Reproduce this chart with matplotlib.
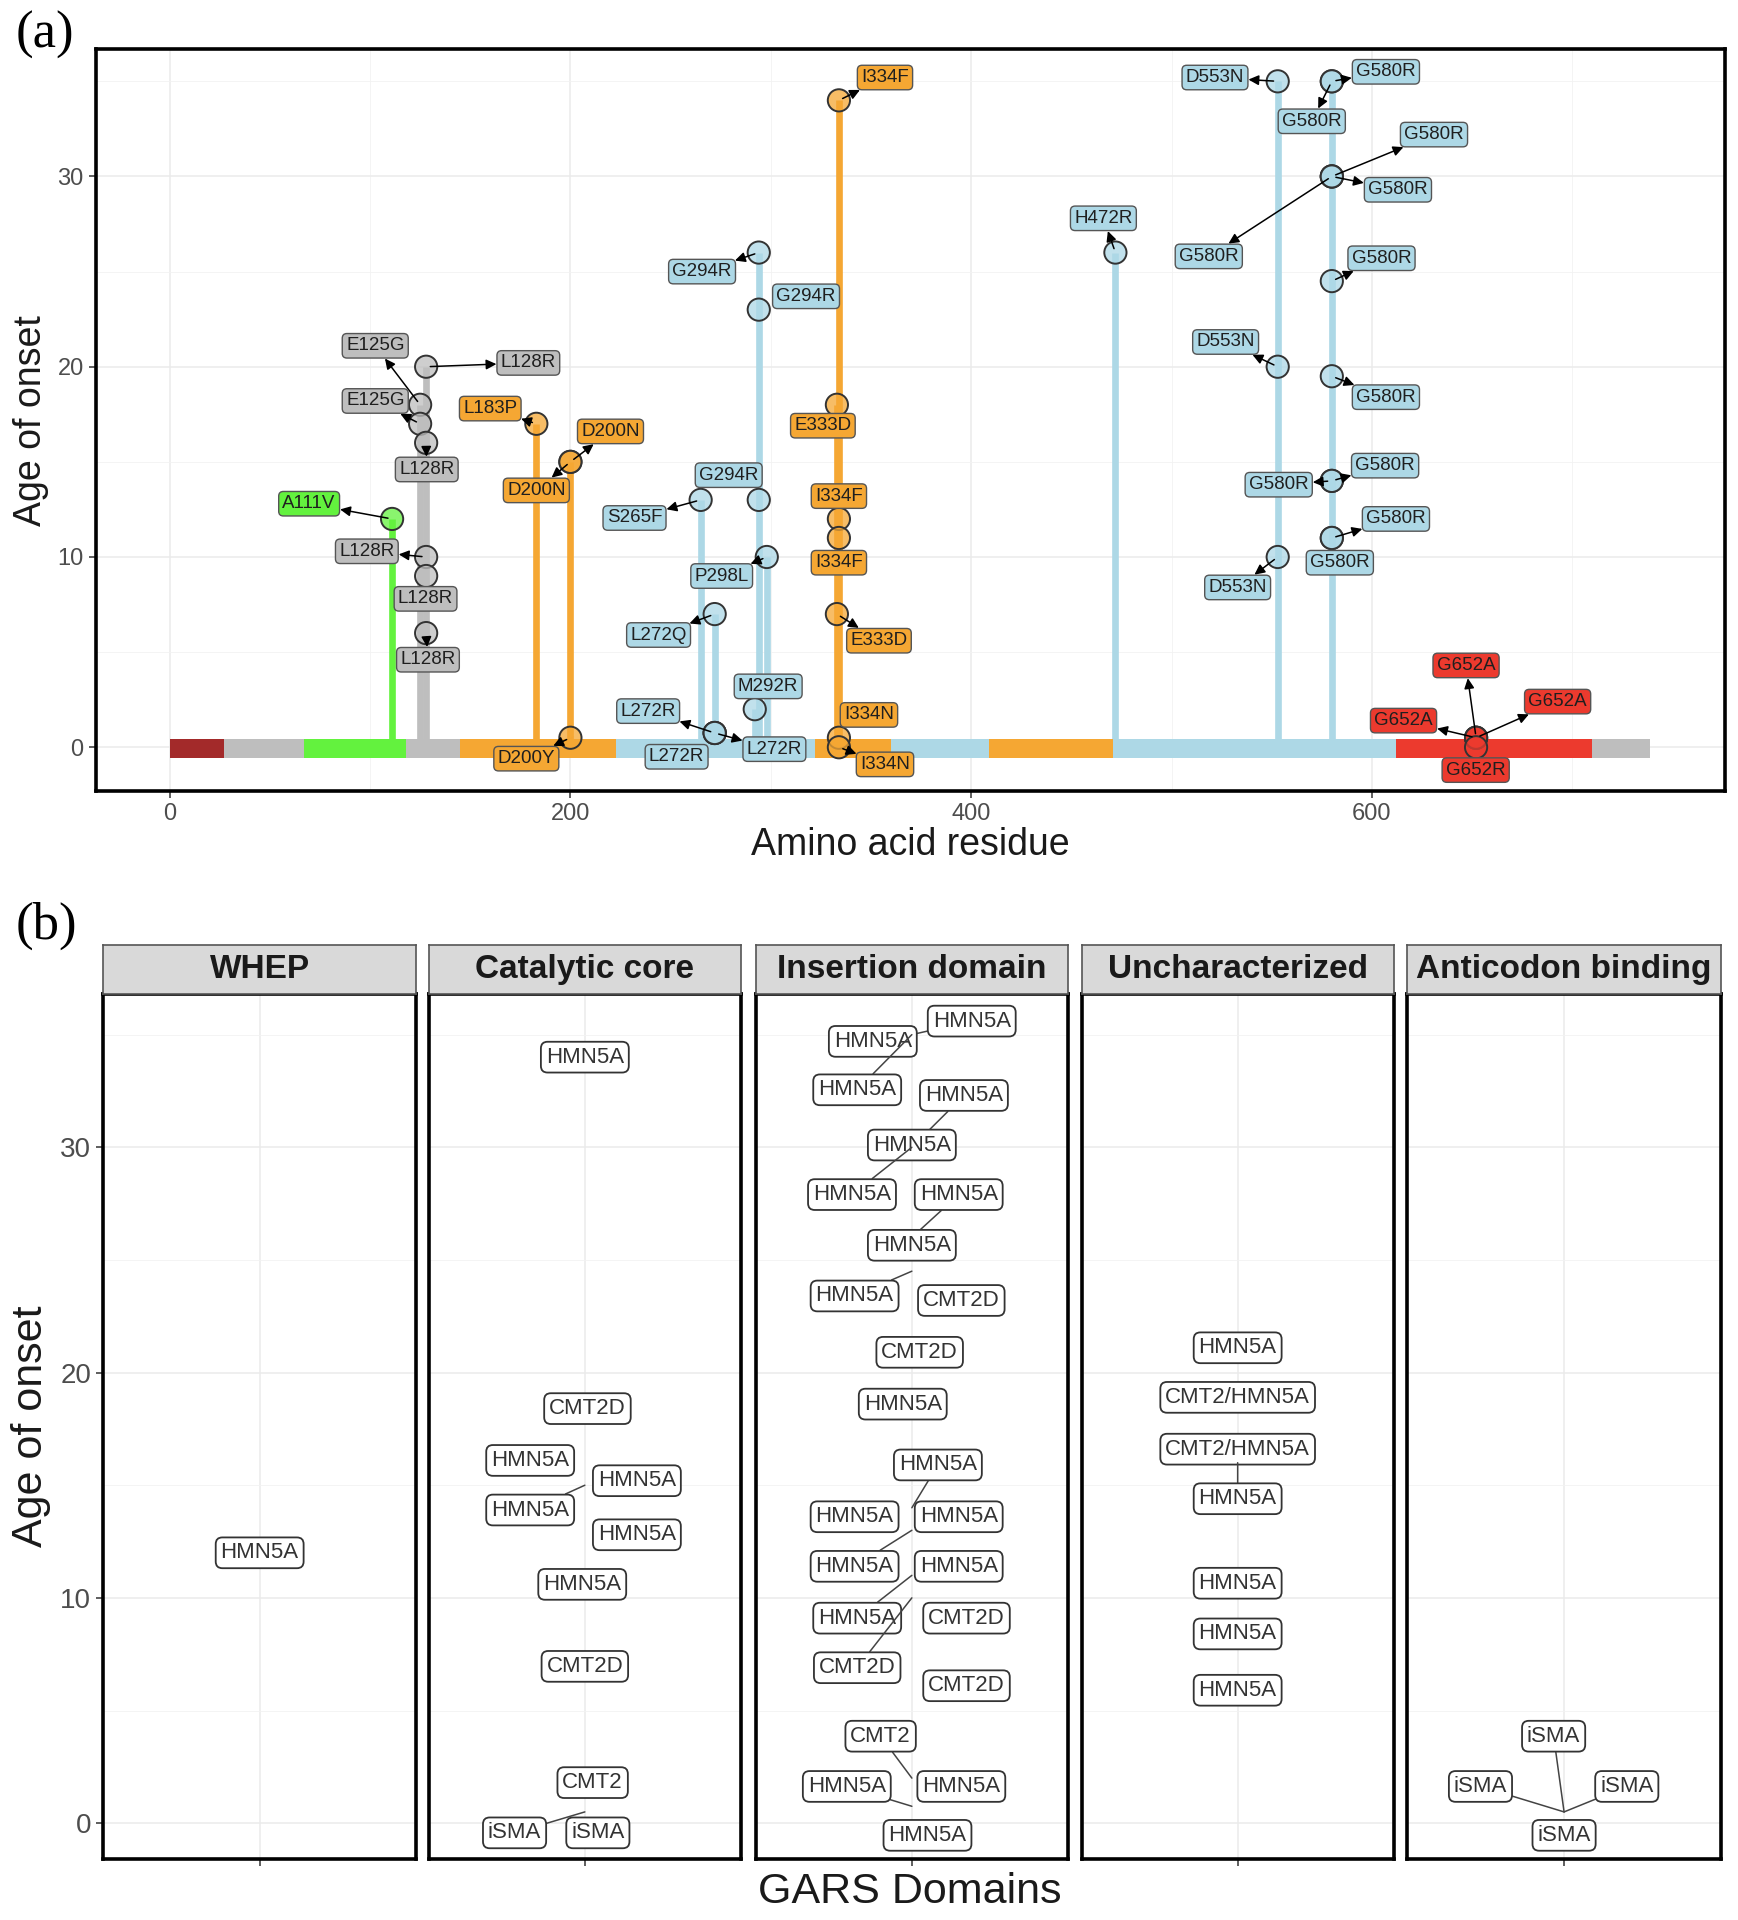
import matplotlib

matplotlib.use("Agg")
import matplotlib.pyplot as plt  # noqa: E402
import numpy as np  # noqa: E402
import pandas as pd  # noqa: E402
from matplotlib.colors import to_rgba  # noqa: E402

plt.rcParams.update({
    "font.family": ["Liberation Sans", "DejaVu Sans"],
    "axes.linewidth": 2.4,
})

# ---- data: reported GARS mutations ----
mutation = ["A111V",
            "L128R", "E125G", "E125G", "L128R", "L128R", "L128R", "L128R",
            "L183P", "D200N", "D200N", "D200Y", "I334F", "E333D", "I334F", "I334F", "E333D", "I334N", "I334N",
            "S265F", "G294R", "G294R", "G294R", "P298L", "L272Q", "M292R", "L272R", "L272R", "L272R",
            "H472R", "D553N", "G580R", "G580R", "G580R", "G580R", "G580R", "G580R", "D553N", "G580R",
            "G580R", "G580R", "G580R", "G580R", "D553N",
            "G652A", "G652A", "G652A", "G652R"]
residue = [111,
           128, 125, 125, 128, 128, 128, 128,
           183, 200, 200, 200, 334, 333, 334, 334, 333, 334, 334,
           265, 294, 294, 294, 298, 272, 292, 272, 272, 272,
           472, 553, 580, 580, 580, 580, 580, 580, 553, 580, 580, 580, 580, 580, 553,
           652, 652, 652, 652]
age = [12,
       20, 18, 17, 16, 10, 9, 6,
       17, 15, 15, 0.5, 34, 18, 12, 11, 7, 0.5, 0,
       13, 13, 26, 23, 10, 7, 2, 0.75, 0.75, 0.75,
       26, 35, 35, 35, 30, 30, 30, 24.5, 20, 19.5, 14, 14, 11, 11, 10,
       0.5, 0.5, 0.5, 0]
domain = (["whep"] + ["none"] * 7 + ["cat"] * 11 + ["ins"] * 25 + ["anti"] * 4)
disease = ["HMN5A",
           "HMN5A", "CMT2/HMN5A", "CMT2/HMN5A", "HMN5A", "HMN5A", "HMN5A", "HMN5A",
           "HMN5A", "HMN5A", "HMN5A", "iSMA", "HMN5A", "CMT2D", "HMN5A", "HMN5A", "CMT2D", "CMT2", "iSMA",
           "HMN5A", "HMN5A", "HMN5A", "CMT2D", "CMT2D", "CMT2D", "CMT2", "HMN5A", "HMN5A", "HMN5A",
           "HMN5A", "HMN5A", "HMN5A", "HMN5A", "HMN5A", "HMN5A", "HMN5A", "HMN5A", "CMT2D", "HMN5A",
           "HMN5A", "HMN5A", "HMN5A", "HMN5A", "CMT2D",
           "iSMA", "iSMA", "iSMA", "iSMA"]

# protein map along y = 0
map_start = [0, 27, 67, 118, 145, 223, 322, 360, 409, 471, 612, 710]
map_end = [27, 67, 118, 145, 223, 322, 360, 409, 471, 612, 710, 739]
map_domain = ["mts", "none", "whep", "none", "cat", "ins", "cat", "ins", "cat", "ins", "anti", "none"]

facet_keys = ["whep", "cat", "ins", "none", "anti"]
facet_titles = ["WHEP", "Catalytic core", "Insertion domain", "Uncharacterized", "Anticodon binding"]

# ---- styling / layout ----
COLORS = {"mts": "#A32A2A", "none": "#BEBEBE", "whep": "#63F23E",
          "cat": "#F5A733", "ins": "#ADD8E6", "anti": "#EC3A2E"}

# repelled label positions (panel a: data coords; panel b: x offset from facet centre, y)
label_a_x = [69.6,
             179, 102.6, 102.6, 128.3, 98.4, 127.7, 128.9,
             160, 220, 183, 178, 357, 326, 334, 334, 354, 349, 357,
             232, 279, 265.7, 317.6, 275.5, 244, 298.7, 238.8, 253, 301.8,
             466, 521.7, 607, 570, 631, 613, 518.6, 604.8, 527, 607, 553.5, 606.6, 612, 584, 533,
             647, 692.7, 615.8, 651.8]
label_a_y = [12.8,
             20.2, 21.1, 18.2, 14.6, 10.3, 7.8, 4.6,
             17.8, 16.6, 13.5, -0.6, 35.2, 16.9, 13.2, 9.7, 5.6, 1.7, -0.9,
             12.05, 14.3, 25.0, 23.7, 9.0, 5.9, 3.2, 1.9, -0.5, -0.1,
             27.8, 35.2, 35.5, 32.9, 32.2, 29.3, 25.8, 25.7, 21.3, 18.4, 13.8, 14.8, 12.0, 9.7, 8.4,
             4.3, 2.4, 1.4, -1.2]
label_b_dx = [0,
              0, 0, 0, 0, 0, 0, 0,
              -0.21, 0.20, -0.21, -0.27, 0, 0.01, 0.20, -0.01, 0, 0.03, 0.05,
              0.18, -0.22, 0.18, 0.19, 0.21, 0.21, -0.12, -0.25, 0.19, 0.06,
              0, 0.23, -0.15, -0.21, 0.20, 0, -0.23, -0.22, 0.03, -0.035, 0.10, -0.22, 0.18, -0.21, -0.21,
              -0.04, 0.24, -0.32, 0]
label_b_y = [12.0,
             21.1, 18.9, 16.6, 14.4, 10.65, 8.4, 5.9,
             16.1, 15.2, 13.9, -0.43, 34.0, 18.4, 12.8, 10.6, 6.96, 1.8, -0.43,
             13.6, 11.4, 27.9, 23.2, 9.1, 6.1, 3.86, 1.63, 1.63, -0.54,
             25.65, 35.6, 34.7, 32.55, 32.3, 30.1, 27.9, 23.4, 20.9, 18.6, 15.9, 13.6, 11.4, 9.1, 6.9,
             3.86, 1.63, 1.63, -0.54]

df = pd.DataFrame({"mutation": mutation, "residue": residue, "age": age,
                   "domain": domain, "disease": disease,
                   "lax": label_a_x, "lay": label_a_y, "lbx": label_b_dx, "lby": label_b_y})
df["color"] = df["domain"].map(COLORS)

GRID_MAJOR = dict(color="#EBEBEB", lw=1.1)
GRID_MINOR = dict(color="#F2F2F2", lw=0.6)

fig = plt.figure(figsize=(17.38, 19.2), dpi=100)
check = []  # (annotation, min visible gap in px) for hiding short segments


def style_axes(ax, labelsize):
    ax.tick_params(direction="out", length=5, width=1.1, color="#333333",
                   labelcolor="#4D4D4D", labelsize=labelsize)
    for s in ax.spines.values():
        s.set_linewidth(2.6)
        s.set_color("black")
    ax.set_axisbelow(True)


# ---------------- panel (a) ----------------
ax = fig.add_axes([0.05497, 0.58801, 0.93728, 0.38648])
ax.set_xlim(-37, 776)
ax.set_ylim(-2.3, 36.7)
ax.set_xticks([0, 200, 400, 600])
ax.set_yticks([0, 10, 20, 30])
ax.set_xticks([100, 300, 500, 700], minor=True)
ax.set_yticks([5, 15, 25, 35], minor=True)
ax.tick_params(which="minor", length=0)
ax.grid(True, which="major", **GRID_MAJOR)
ax.grid(True, which="minor", **GRID_MINOR)
style_axes(ax, 17)

stems = df.groupby("residue").agg(top=("age", "max"), color=("color", "first")).reset_index()
ax.vlines(stems["residue"], 0, stems["top"], colors=stems["color"], lw=4.8, zorder=2)

for s, e, d in zip(map_start, map_end, map_domain):
    ax.broken_barh([(s, e - s)], (-0.55, 1.0), facecolors=COLORS[d], zorder=3)

face = [to_rgba(c, 0.75) for c in df["color"]]
ax.scatter(df["residue"], df["age"], s=16 ** 2, facecolors=face,
           edgecolors="#333333", linewidths=1.4, zorder=4)

for r in df.itertuples():
    ann = ax.annotate(
        r.mutation, xy=(r.residue, r.age), xytext=(r.lax, r.lay),
        ha="center", va="center", fontsize=13.5, color="#1F1F1F", zorder=6,
        bbox=dict(boxstyle="round,pad=0.2,rounding_size=0.25", fc=r.color, ec="#555555", lw=1.0),
        arrowprops=dict(arrowstyle="<|-,head_length=0.45,head_width=0.22", color="black",
                        lw=1.1, shrinkA=0, shrinkB=3),
    )
    check.append((ann, 14))

fig.text(0.5236, 0.560, "Amino acid residue", ha="center", va="center", fontsize=27, color="#1A1A1A")
fig.text(0.0176, 0.781, "Age of onset", ha="center", va="center", rotation=90, fontsize=27, color="#1A1A1A")
fig.text(0.026, 0.982, "(a)", ha="center", va="center", fontsize=38, family="Liberation Serif")

# ---------------- panel (b) ----------------
facet_x = [(0.05920, 0.23961), (0.24665, 0.42636), (0.43481, 0.61452),
           (0.62227, 0.80197), (0.80973, 0.99013)]
pb_bottom, pb_h = 0.03189, 0.45025
strip_h = 0.02551

for k, (key, title) in enumerate(zip(facet_keys, facet_titles)):
    x0, x1 = facet_x[k]
    fax = fig.add_axes([x0, pb_bottom, x1 - x0, pb_h])
    fax.set_xlim(0.4, 1.6)
    fax.set_ylim(-1.58, 36.79)
    fax.set_xticks([1])
    fax.set_xticklabels([""])
    fax.set_yticks([0, 10, 20, 30])
    fax.set_yticks([5, 15, 25, 35], minor=True)
    fax.tick_params(which="minor", length=0)
    fax.grid(True, which="major", **GRID_MAJOR)
    fax.grid(True, which="minor", axis="y", **GRID_MINOR)
    style_axes(fax, 20)
    if k > 0:
        fax.tick_params(axis="y", length=0, labelleft=False)

    sub = df[df["domain"] == key]
    for r in sub.itertuples():
        ann = fax.annotate(
            r.disease, xy=(1, r.age), xytext=(1 + r.lbx, r.lby),
            ha="center", va="center", fontsize=16, color="#333333", zorder=6,
            bbox=dict(boxstyle="round,pad=0.22,rounding_size=0.3", fc="white", ec="#333333", lw=1.3),
            arrowprops=dict(arrowstyle="-", color="#444444", lw=1.1, shrinkA=0, shrinkB=0),
        )
        check.append((ann, 14))

    sax = fig.add_axes([x0, pb_bottom + pb_h, x1 - x0, strip_h])
    sax.set_facecolor("#D9D9D9")
    sax.set_xticks([])
    sax.set_yticks([])
    for s in sax.spines.values():
        s.set_color("#555555")
        s.set_linewidth(1.2)
    sax.text(0.5, 0.5, title, ha="center", va="center", fontsize=24,
             fontweight="bold", color="#1A1A1A", transform=sax.transAxes)

fig.text(0.5236, 0.0147, "GARS Domains", ha="center", va="center", fontsize=31, color="#1A1A1A")
fig.text(0.0176, 0.257, "Age of onset", ha="center", va="center", rotation=90, fontsize=31, color="#1A1A1A")
fig.text(0.027, 0.518, "(b)", ha="center", va="center", fontsize=38, family="Liberation Serif")

# hide segments that would be too short to see (like ggrepel's min segment length)
fig.canvas.draw()
renderer = fig.canvas.get_renderer()
for ann, min_gap in check:
    box = ann.get_bbox_patch().get_window_extent(renderer)
    px, py = ann.axes.transData.transform(ann.xy)
    gx = max(box.x0 - px, 0, px - box.x1)
    gy = max(box.y0 - py, 0, py - box.y1)
    if np.hypot(gx, gy) < min_gap:
        ann.arrow_patch.set_visible(False)

fig.savefig("out.png", dpi=100, facecolor="white")
plt.close(fig)
